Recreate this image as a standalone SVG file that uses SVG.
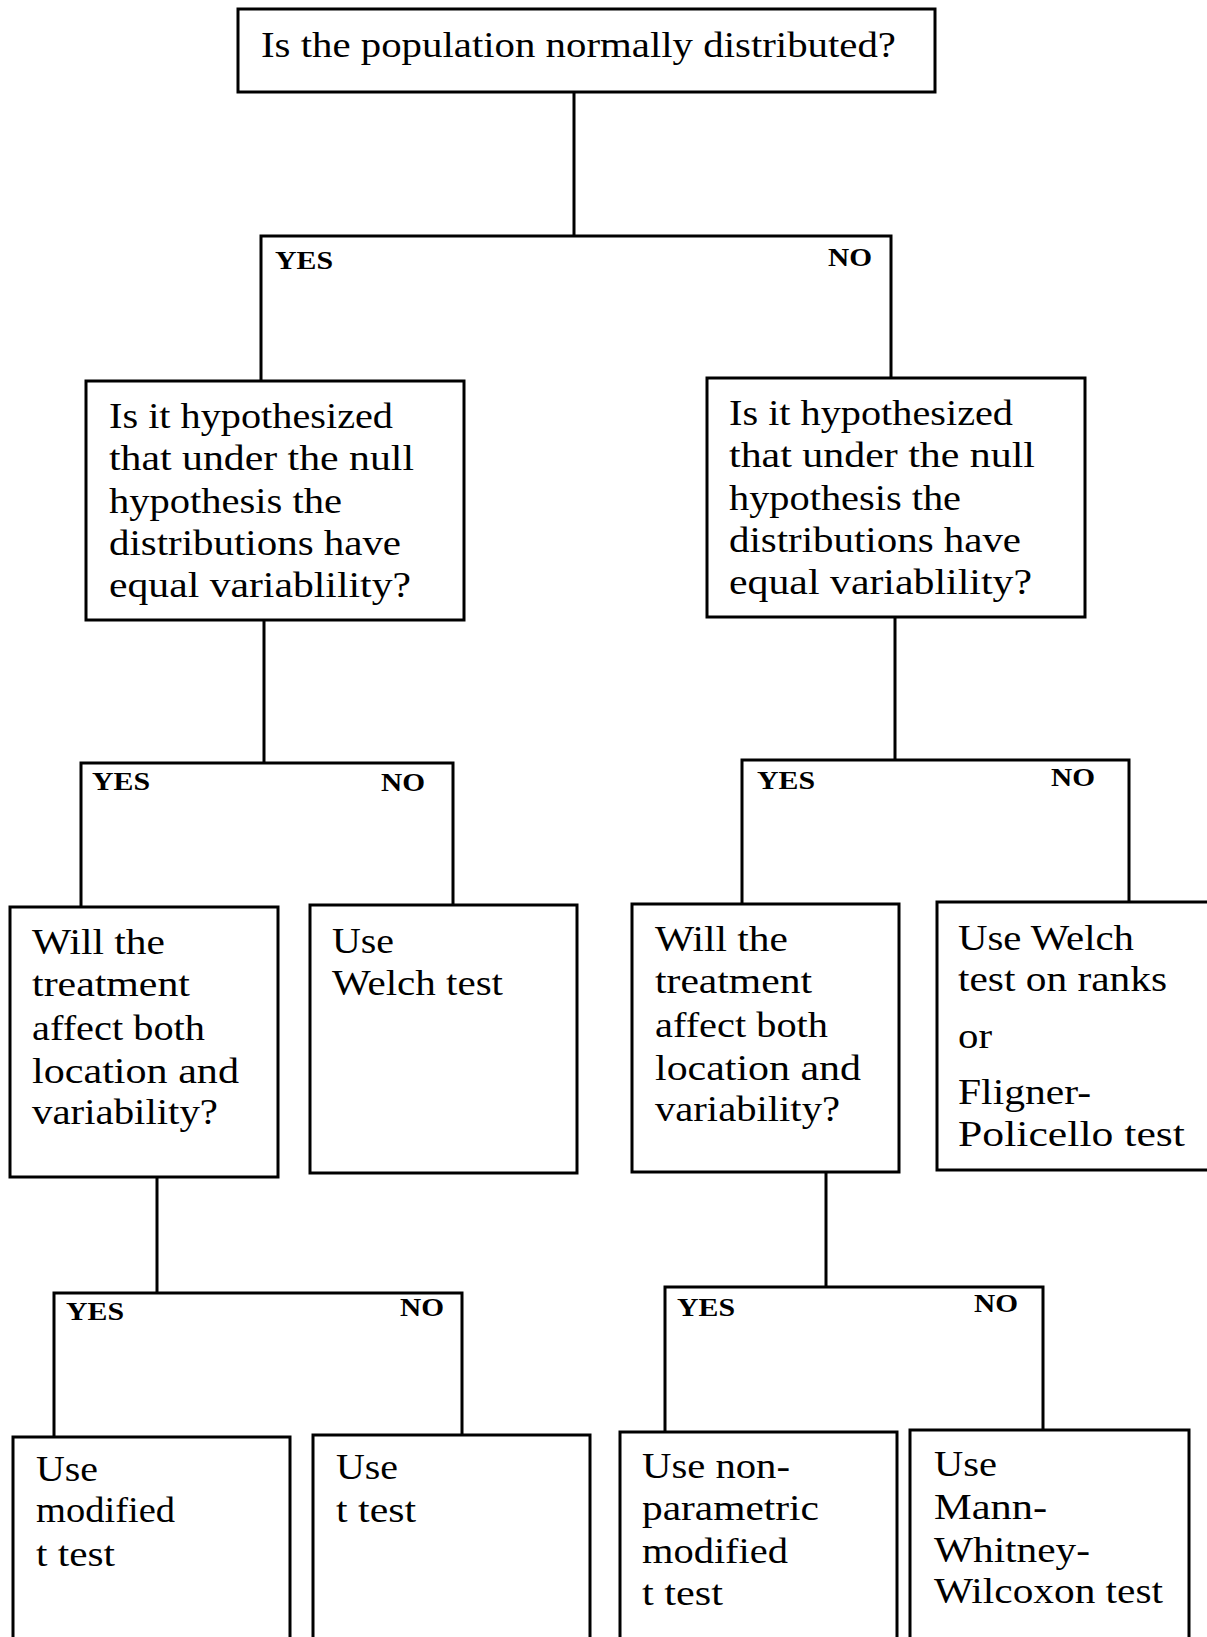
<svg xmlns="http://www.w3.org/2000/svg" width="1207" height="1637" viewBox="0 0 1207 1637">
<style>
.box{fill:#fff;stroke:#000;stroke-width:3}
.conn{fill:none;stroke:#000;stroke-width:3}
.t{font-family:"Liberation Serif","Times New Roman",serif;font-size:36px;fill:#000}
.lbl{font-family:"Liberation Serif","Times New Roman",serif;font-size:26px;font-weight:bold;fill:#000}
</style>
<rect width="1207" height="1637" fill="#fff"/>
<g id="connectors">
<path class="conn" d="M574,92 V236 M261,381 V236 H891 V378"/>
<path class="conn" d="M264,620 V763 M81,907 V763 H453 V906"/>
<path class="conn" d="M895,617 V760 M742,904 V760 H1129 V902"/>
<path class="conn" d="M157,1177 V1293 M54,1437 V1293 H462 V1435"/>
<path class="conn" d="M826,1172 V1287 M665,1432 V1287 H1043 V1430"/>
<text class="lbl" x="275" y="269" textLength="58" lengthAdjust="spacingAndGlyphs">YES</text>
<text class="lbl" x="828" y="266" textLength="44" lengthAdjust="spacingAndGlyphs">NO</text>
<text class="lbl" x="92" y="790" textLength="58" lengthAdjust="spacingAndGlyphs">YES</text>
<text class="lbl" x="381" y="791" textLength="44" lengthAdjust="spacingAndGlyphs">NO</text>
<text class="lbl" x="757" y="789" textLength="58" lengthAdjust="spacingAndGlyphs">YES</text>
<text class="lbl" x="1051" y="786" textLength="44" lengthAdjust="spacingAndGlyphs">NO</text>
<text class="lbl" x="66" y="1320" textLength="58" lengthAdjust="spacingAndGlyphs">YES</text>
<text class="lbl" x="400" y="1316" textLength="44" lengthAdjust="spacingAndGlyphs">NO</text>
<text class="lbl" x="677" y="1316" textLength="58" lengthAdjust="spacingAndGlyphs">YES</text>
<text class="lbl" x="974" y="1312" textLength="44" lengthAdjust="spacingAndGlyphs">NO</text>
</g>
<g id="q-normal">
<rect class="box" x="238" y="9" width="697" height="83"/>
<text class="t" x="261" y="57" textLength="635" lengthAdjust="spacingAndGlyphs">Is the population normally distributed?</text>
</g>
<g id="q-var-yes">
<rect class="box" x="86" y="381" width="378" height="239"/>
<text class="t" x="109" y="428" textLength="284" lengthAdjust="spacingAndGlyphs">Is it hypothesized</text>
<text class="t" x="109" y="470" textLength="305" lengthAdjust="spacingAndGlyphs">that under the null</text>
<text class="t" x="109" y="513" textLength="233" lengthAdjust="spacingAndGlyphs">hypothesis the</text>
<text class="t" x="109" y="555" textLength="292" lengthAdjust="spacingAndGlyphs">distributions have</text>
<text class="t" x="109" y="597" textLength="302" lengthAdjust="spacingAndGlyphs">equal variablility?</text>
</g>
<g id="q-var-no">
<rect class="box" x="707" y="378" width="378" height="239"/>
<text class="t" x="729" y="425" textLength="284" lengthAdjust="spacingAndGlyphs">Is it hypothesized</text>
<text class="t" x="729" y="467" textLength="306" lengthAdjust="spacingAndGlyphs">that under the null</text>
<text class="t" x="729" y="510" textLength="232" lengthAdjust="spacingAndGlyphs">hypothesis the</text>
<text class="t" x="729" y="552" textLength="292" lengthAdjust="spacingAndGlyphs">distributions have</text>
<text class="t" x="729" y="594" textLength="303" lengthAdjust="spacingAndGlyphs">equal variablility?</text>
</g>
<g id="q-loc-yes">
<rect class="box" x="10" y="907" width="268" height="270"/>
<text class="t" x="32" y="954" textLength="133" lengthAdjust="spacingAndGlyphs">Will the</text>
<text class="t" x="32" y="996" textLength="158" lengthAdjust="spacingAndGlyphs">treatment</text>
<text class="t" x="32" y="1040" textLength="173" lengthAdjust="spacingAndGlyphs">affect both</text>
<text class="t" x="32" y="1083" textLength="207" lengthAdjust="spacingAndGlyphs">location and</text>
<text class="t" x="32" y="1124" textLength="186" lengthAdjust="spacingAndGlyphs">variability?</text>
</g>
<g id="welch">
<rect class="box" x="310" y="905" width="267" height="268"/>
<text class="t" x="332" y="953" textLength="62" lengthAdjust="spacingAndGlyphs">Use</text>
<text class="t" x="332" y="995" textLength="171" lengthAdjust="spacingAndGlyphs">Welch test</text>
</g>
<g id="q-loc-no">
<rect class="box" x="632" y="904" width="267" height="268"/>
<text class="t" x="655" y="951" textLength="133" lengthAdjust="spacingAndGlyphs">Will the</text>
<text class="t" x="655" y="993" textLength="157" lengthAdjust="spacingAndGlyphs">treatment</text>
<text class="t" x="655" y="1037" textLength="173" lengthAdjust="spacingAndGlyphs">affect both</text>
<text class="t" x="655" y="1080" textLength="206" lengthAdjust="spacingAndGlyphs">location and</text>
<text class="t" x="655" y="1121" textLength="185" lengthAdjust="spacingAndGlyphs">variability?</text>
</g>
<g id="welch-ranks">
<rect class="box" x="937" y="902" width="300" height="268"/>
<text class="t" x="958" y="950" textLength="176" lengthAdjust="spacingAndGlyphs">Use Welch</text>
<text class="t" x="958" y="991" textLength="209" lengthAdjust="spacingAndGlyphs">test on ranks</text>
<text class="t" x="958" y="1048" textLength="34" lengthAdjust="spacingAndGlyphs">or</text>
<text class="t" x="958" y="1104" textLength="133" lengthAdjust="spacingAndGlyphs">Fligner-</text>
<text class="t" x="958" y="1146" textLength="227" lengthAdjust="spacingAndGlyphs">Policello test</text>
</g>
<g id="modified-t">
<rect class="box" x="13" y="1437" width="277" height="240"/>
<text class="t" x="36" y="1481" textLength="62" lengthAdjust="spacingAndGlyphs">Use</text>
<text class="t" x="36" y="1522" textLength="139" lengthAdjust="spacingAndGlyphs">modified</text>
<text class="t" x="36" y="1566" textLength="79" lengthAdjust="spacingAndGlyphs">t test</text>
</g>
<g id="t-test">
<rect class="box" x="313" y="1435" width="277" height="240"/>
<text class="t" x="336" y="1479" textLength="62" lengthAdjust="spacingAndGlyphs">Use</text>
<text class="t" x="336" y="1522" textLength="80" lengthAdjust="spacingAndGlyphs">t test</text>
</g>
<g id="np-modified-t">
<rect class="box" x="620" y="1432" width="277" height="240"/>
<text class="t" x="642" y="1478" textLength="148" lengthAdjust="spacingAndGlyphs">Use non-</text>
<text class="t" x="642" y="1520" textLength="177" lengthAdjust="spacingAndGlyphs">parametric</text>
<text class="t" x="642" y="1563" textLength="146" lengthAdjust="spacingAndGlyphs">modified</text>
<text class="t" x="642" y="1605" textLength="81" lengthAdjust="spacingAndGlyphs">t test</text>
</g>
<g id="mww">
<rect class="box" x="910" y="1430" width="279" height="240"/>
<text class="t" x="934" y="1476" textLength="63" lengthAdjust="spacingAndGlyphs">Use</text>
<text class="t" x="934" y="1519" textLength="113" lengthAdjust="spacingAndGlyphs">Mann-</text>
<text class="t" x="934" y="1562" textLength="156" lengthAdjust="spacingAndGlyphs">Whitney-</text>
<text class="t" x="934" y="1603" textLength="229" lengthAdjust="spacingAndGlyphs">Wilcoxon  test</text>
</g>
</svg>
